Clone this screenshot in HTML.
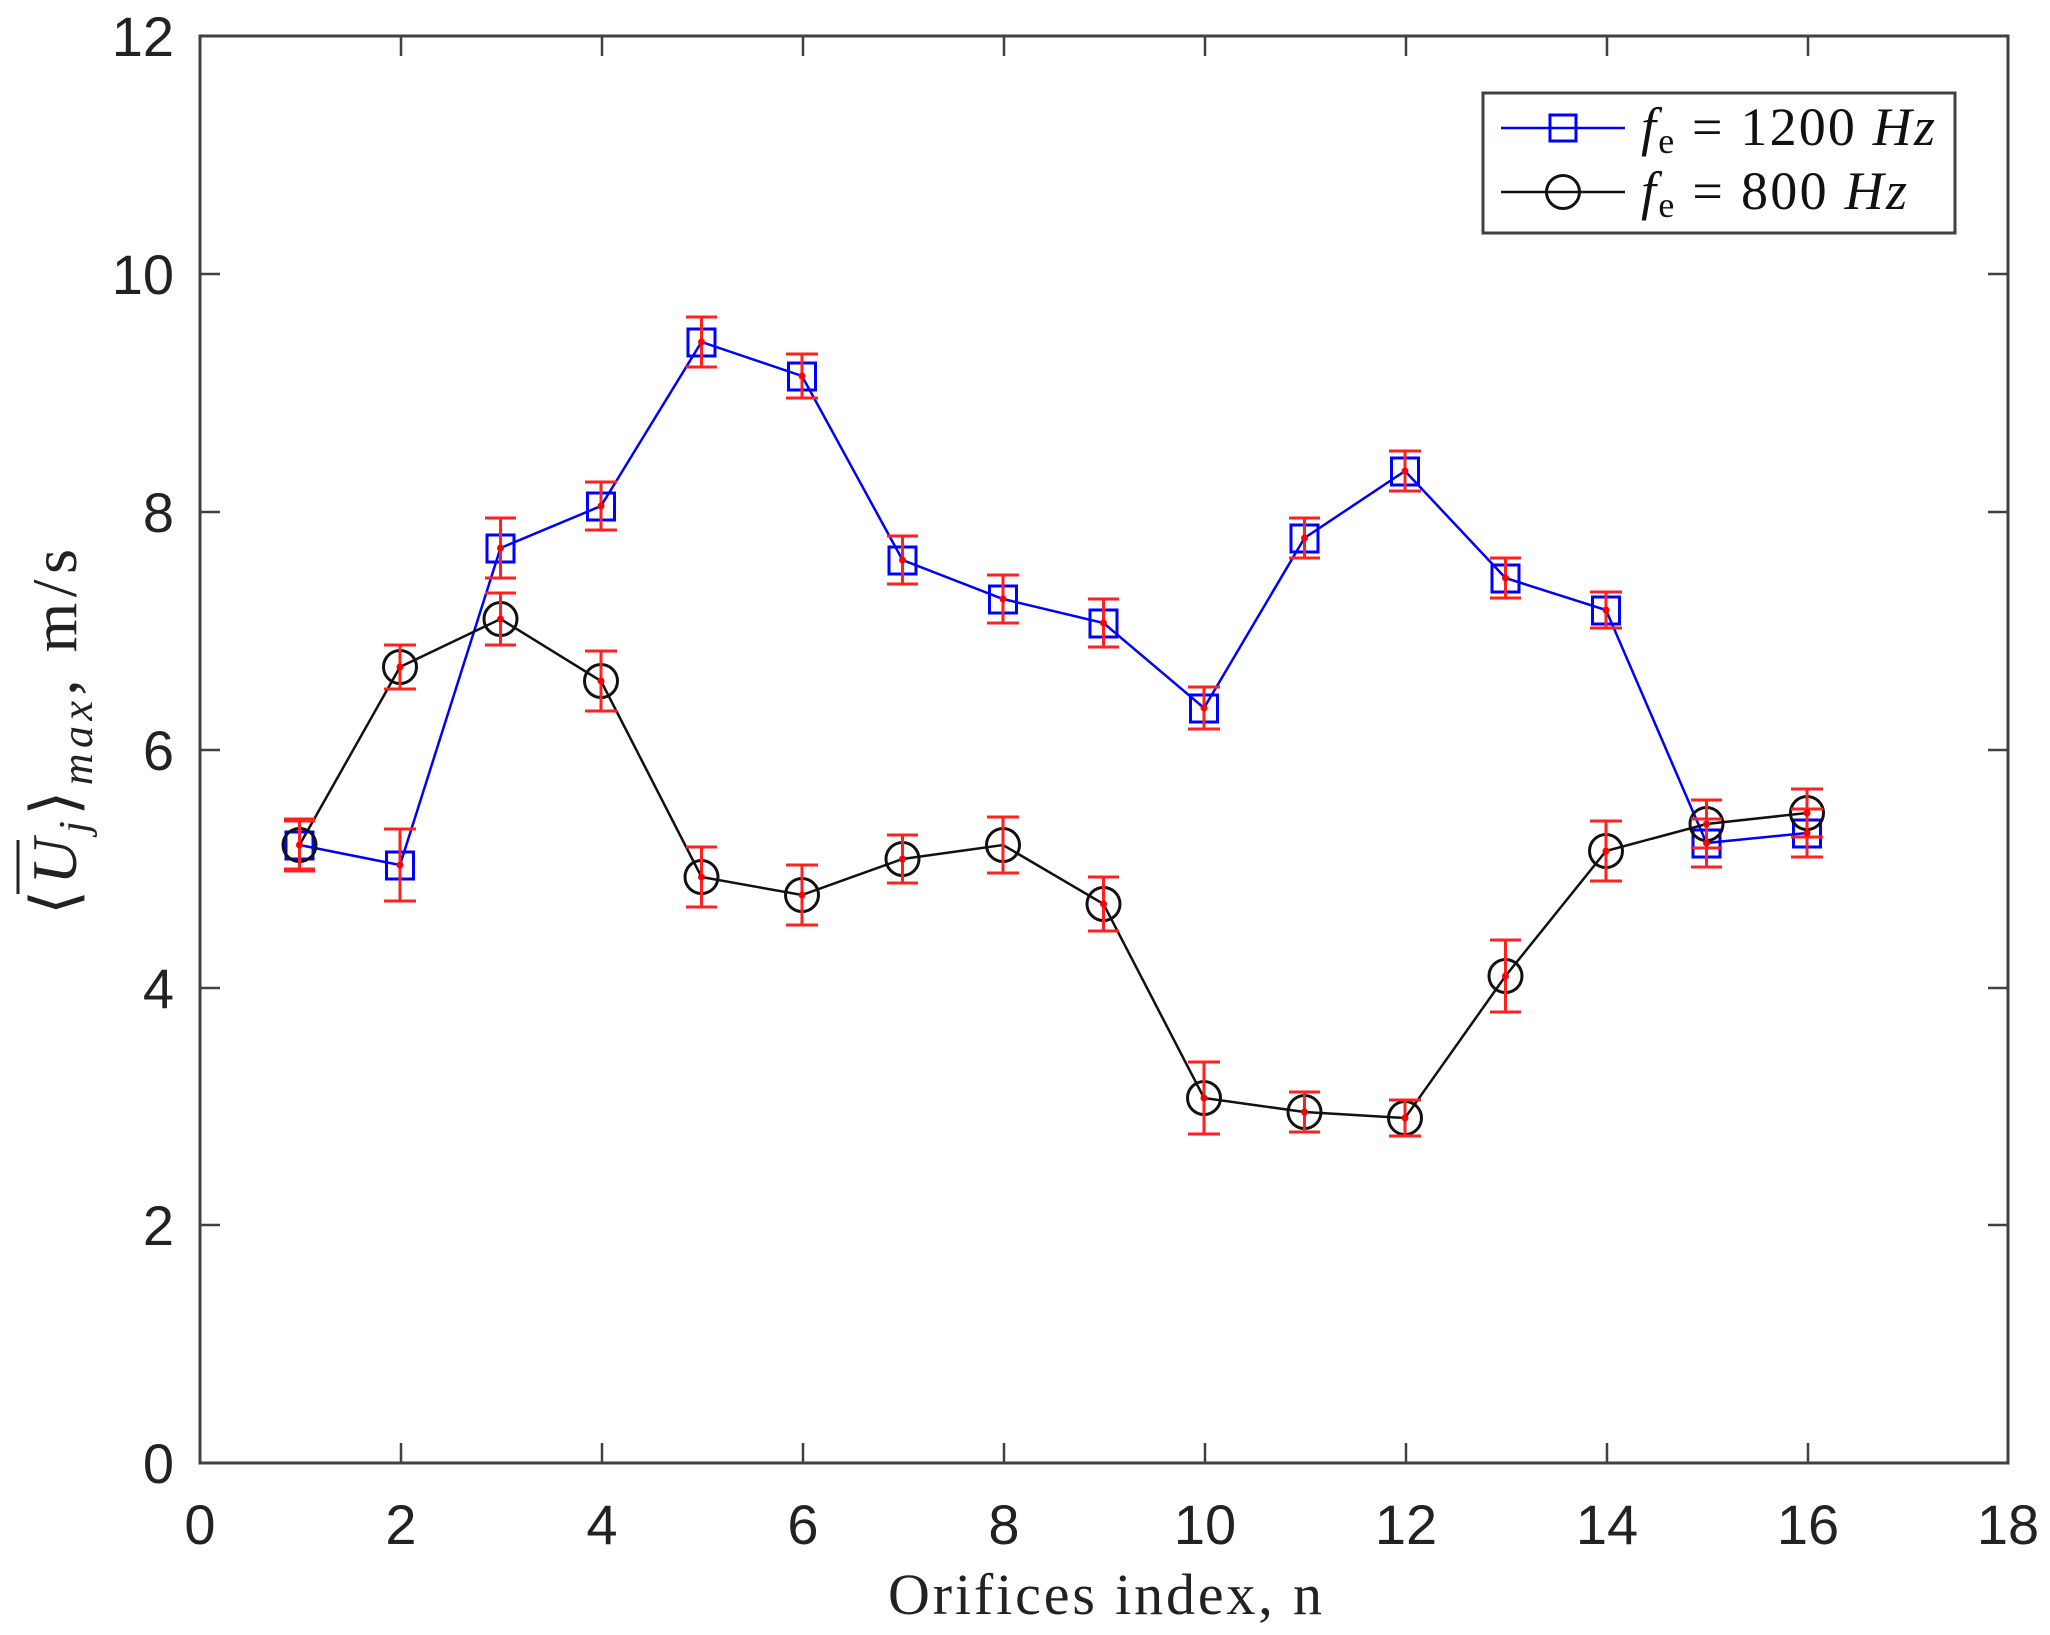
<!DOCTYPE html>
<html><head><meta charset="utf-8"><style>html,body{margin:0;padding:0;background:#fff}svg{display:block}</style></head>
<body>
<svg width="2050" height="1635" viewBox="0 0 2050 1635" xmlns="http://www.w3.org/2000/svg">
<rect width="2050" height="1635" fill="#fff"/>
<rect x="200" y="36" width="1808" height="1427" fill="none" stroke="#404040" stroke-width="3"/>
<g stroke="#404040" stroke-width="2.5">
<path d="M401 1463v-20M602 1463v-20M803 1463v-20M1004 1463v-20M1205 1463v-20M1406 1463v-20M1607 1463v-20M1808 1463v-20
M401 36v20M602 36v20M803 36v20M1004 36v20M1205 36v20M1406 36v20M1607 36v20M1808 36v20
M200 1225h20M200 988h20M200 750h20M200 512h20M200 274h20
M2008 1225h-20M2008 988h-20M2008 750h-20M2008 512h-20M2008 274h-20"/>
</g>
<g font-family="Liberation Sans, sans-serif" font-size="56" fill="#222" text-anchor="middle">
<text x="200" y="1544">0</text><text x="401" y="1544">2</text><text x="602" y="1544">4</text><text x="803" y="1544">6</text><text x="1004" y="1544">8</text><text x="1205" y="1544">10</text><text x="1406" y="1544">12</text><text x="1607" y="1544">14</text><text x="1808" y="1544">16</text><text x="2008" y="1544">18</text>
</g>
<g font-family="Liberation Sans, sans-serif" font-size="56" fill="#222" text-anchor="end">
<text x="174" y="1483">0</text><text x="174" y="1245">2</text><text x="174" y="1008">4</text><text x="174" y="770">6</text><text x="174" y="532">8</text><text x="174" y="294">10</text><text x="174" y="56">12</text>
</g>
<text x="888" y="1614" font-family="Liberation Serif, serif" font-size="58" fill="#222" textLength="434">Orifices index, n</text>
<g transform="translate(76,732) rotate(-90)" font-family="Liberation Serif, serif" font-size="64" fill="#222">
<text x="-183" y="0" textLength="366">⟨<tspan font-style="italic">U</tspan><tspan font-style="italic" font-size="42" dy="12">j</tspan><tspan dy="-12">⟩</tspan><tspan font-style="italic" font-size="44" dy="16">max</tspan><tspan dy="-16">, m/s</tspan></text>
<line x1="-162" y1="-58" x2="-108" y2="-58" stroke="#222" stroke-width="3"/>
</g>
<polyline fill="none" stroke="#0000ff" stroke-width="2.5" points="299.5,845 400,865 500.5,548 601,506 701.5,342 802,376 902.5,560 1003,599 1103.5,623 1204,708 1304.5,538 1405,471 1505.5,578 1606,610 1706.5,843 1807,833"/>
<polyline fill="none" stroke="#111" stroke-width="2.5" points="299.5,845 400,667 500.5,619 601,681 701.5,877 802,895 902.5,859 1003,845 1103.5,904 1204,1098 1304.5,1112 1405,1118 1505.5,976 1606,851 1706.5,824 1807,813"/>
<g fill="none" stroke="#0000ff" stroke-width="3">
<rect x="286" y="832" width="27" height="27"/><rect x="386.5" y="852" width="27" height="27"/><rect x="487" y="535" width="27" height="27"/><rect x="587.5" y="493" width="27" height="27"/><rect x="688" y="329" width="27" height="27"/><rect x="788.5" y="363" width="27" height="27"/><rect x="889" y="547" width="27" height="27"/><rect x="989.5" y="586" width="27" height="27"/><rect x="1090" y="610" width="27" height="27"/><rect x="1190.5" y="695" width="27" height="27"/><rect x="1291" y="525" width="27" height="27"/><rect x="1391.5" y="458" width="27" height="27"/><rect x="1492" y="565" width="27" height="27"/><rect x="1592.5" y="597" width="27" height="27"/><rect x="1693" y="830" width="27" height="27"/><rect x="1793.5" y="820" width="27" height="27"/>
</g>
<g fill="none" stroke="#111" stroke-width="3">
<circle cx="299.5" cy="845" r="16.5"/><circle cx="400" cy="667" r="16.5"/><circle cx="500.5" cy="619" r="16.5"/><circle cx="601" cy="681" r="16.5"/><circle cx="701.5" cy="877" r="16.5"/><circle cx="802" cy="895" r="16.5"/><circle cx="902.5" cy="859" r="16.5"/><circle cx="1003" cy="845" r="16.5"/><circle cx="1103.5" cy="904" r="16.5"/><circle cx="1204" cy="1098" r="16.5"/><circle cx="1304.5" cy="1112" r="16.5"/><circle cx="1405" cy="1118" r="16.5"/><circle cx="1505.5" cy="976" r="16.5"/><circle cx="1606" cy="851" r="16.5"/><circle cx="1706.5" cy="824" r="16.5"/><circle cx="1807" cy="813" r="16.5"/>
</g>
<g stroke="#ff2020" stroke-width="3" fill="none">
<path d="M299.5 821v48M284 821h31M284 869h31
M400 829v72M384 829h32M384 901h32
M500.5 518v60M485 518h31M485 578h31
M601 482v48M585 482h32M585 530h32
M701.5 317v50M686 317h31M686 367h31
M802 354v44M786 354h32M786 398h32
M902.5 536v48M887 536h31M887 584h31
M1003 575v48M987 575h32M987 623h32
M1103.5 599v48M1088 599h31M1088 647h31
M1204 687v42M1188 687h32M1188 729h32
M1304.5 518v40M1289 518h31M1289 558h31
M1405 451v40M1389 451h32M1389 491h32
M1505.5 558v40M1490 558h31M1490 598h31
M1606 592v36M1590 592h32M1590 628h32
M1706.5 819v48M1691 819h31M1691 867h31
M1807 809v48M1791 809h32M1791 857h32
M299.5 819v52M284 819h31M284 871h31
M400 645v44M384 645h32M384 689h32
M500.5 593v52M485 593h31M485 645h31
M601 651v60M585 651h32M585 711h32
M701.5 847v60M686 847h31M686 907h31
M802 865v60M786 865h32M786 925h32
M902.5 835v48M887 835h31M887 883h31
M1003 817v56M987 817h32M987 873h32
M1103.5 877v54M1088 877h31M1088 931h31
M1204 1062v72M1188 1062h32M1188 1134h32
M1304.5 1092v40M1289 1092h31M1289 1132h31
M1405 1100v36M1389 1100h32M1389 1136h32
M1505.5 940v72M1490 940h31M1490 1012h31
M1606 821v60M1590 821h32M1590 881h32
M1706.5 800v48M1691 800h31M1691 848h31
M1807 789v48M1791 789h32M1791 837h32"/>
</g>
<g fill="#ff0000">
<circle cx="299.5" cy="845" r="3.5"/><circle cx="400" cy="865" r="3.5"/><circle cx="500.5" cy="548" r="3.5"/><circle cx="601" cy="506" r="3.5"/><circle cx="701.5" cy="342" r="3.5"/><circle cx="802" cy="376" r="3.5"/><circle cx="902.5" cy="560" r="3.5"/><circle cx="1003" cy="599" r="3.5"/><circle cx="1103.5" cy="623" r="3.5"/><circle cx="1204" cy="708" r="3.5"/><circle cx="1304.5" cy="538" r="3.5"/><circle cx="1405" cy="471" r="3.5"/><circle cx="1505.5" cy="578" r="3.5"/><circle cx="1606" cy="610" r="3.5"/><circle cx="1706.5" cy="843" r="3.5"/><circle cx="1807" cy="833" r="3.5"/>
<circle cx="400" cy="667" r="3.5"/><circle cx="500.5" cy="619" r="3.5"/><circle cx="601" cy="681" r="3.5"/><circle cx="701.5" cy="877" r="3.5"/><circle cx="802" cy="895" r="3.5"/><circle cx="902.5" cy="859" r="3.5"/><circle cx="1103.5" cy="904" r="3.5"/><circle cx="1204" cy="1098" r="3.5"/><circle cx="1304.5" cy="1112" r="3.5"/><circle cx="1405" cy="1118" r="3.5"/><circle cx="1505.5" cy="976" r="3.5"/><circle cx="1606" cy="851" r="3.5"/><circle cx="1706.5" cy="824" r="3.5"/><circle cx="1807" cy="813" r="3.5"/>
</g>
<rect x="1483" y="93" width="472" height="140" fill="#fff" stroke="#404040" stroke-width="3"/>
<line x1="1501" y1="128" x2="1625" y2="128" stroke="#0000ff" stroke-width="2.5"/>
<rect x="1550" y="115" width="26" height="26" fill="none" stroke="#0000ff" stroke-width="3"/>
<line x1="1501" y1="192" x2="1625" y2="192" stroke="#111" stroke-width="2.5"/>
<circle cx="1563" cy="192" r="16.5" fill="none" stroke="#111" stroke-width="3"/>
<g font-family="Liberation Serif, serif" font-size="54" fill="#111">
<text x="1641" y="145" textLength="294"><tspan font-style="italic">f</tspan><tspan font-size="36" dy="8">e</tspan><tspan dy="-8"> = 1200  </tspan><tspan font-style="italic">Hz</tspan></text>
<text x="1641" y="209" textLength="266"><tspan font-style="italic">f</tspan><tspan font-size="36" dy="8">e</tspan><tspan dy="-8"> = 800  </tspan><tspan font-style="italic">Hz</tspan></text>
</g>
</svg>
</body></html>
